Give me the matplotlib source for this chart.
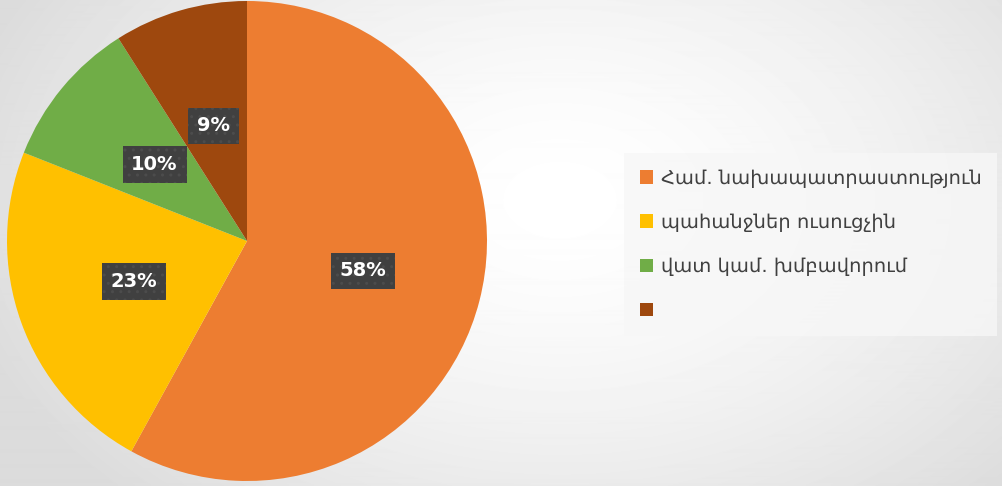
import numpy as np
import matplotlib.pyplot as plt

labels = ['Համ. նախապատրաստություն', 'պահանջներ ուսուցչին', 'վատ կամ. խմբավորում', '']
values = [58, 23, 10, 9]
colors = ['#ED7D31', '#FFC000', '#70AD47', '#9E480E']

plt.rcParams['font.family'] = ['DejaVu Sans']

fig = plt.figure(figsize=(10.03, 4.86), dpi=100)

# soft radial background
bg = fig.add_axes([0, 0, 1, 1])
yy, xx = np.mgrid[0:486, 0:1003]
d = np.sqrt(((xx - 560) / 620.0) ** 2 + ((yy - 200) / 420.0) ** 2)
shade = 1.0 - 0.14 * np.clip(d, 0, 1) ** 1.5
bg.imshow(shade, cmap='gray', vmin=0, vmax=1, aspect='auto', extent=[0, 1, 0, 1],
          interpolation='bilinear')
bg.axis('off')

ax = fig.add_axes([7 / 1003, 5 / 486, 480 / 1003, 480 / 486])
wedges, texts, autotexts = ax.pie(values, colors=colors, startangle=90, counterclock=False,
                                  autopct='%d%%', pctdistance=0.5,
                                  wedgeprops=dict(linewidth=0))
for t in autotexts:
    t.set_color('white')
    t.set_fontweight('bold')
    t.set_fontsize(14)
    t.set_bbox(dict(boxstyle='square,pad=0.45', facecolor='#404040', edgecolor='#4c4c4c',
                    linewidth=0, hatch='..'))
ax.set_xlim(-1, 1)
ax.set_ylim(-1, 1)
ax.set_aspect('equal')

leg = fig.legend(wedges, labels, loc='upper left', bbox_to_anchor=(624 / 1003, 1 - 153 / 486),
                 fontsize=14, frameon=True, fancybox=False, handlelength=0.7, handleheight=0.7,
                 handletextpad=0.4, labelspacing=1.3, borderpad=0.8, borderaxespad=0)
leg.get_frame().set_facecolor('#f7f7f7')
leg.get_frame().set_edgecolor('none')
for t in leg.get_texts():
    t.set_color('#404040')

fig.savefig('out.png', dpi=100)
